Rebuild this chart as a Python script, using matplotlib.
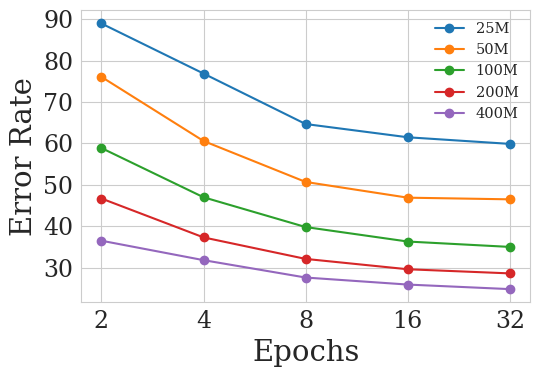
import matplotlib
matplotlib.use("Agg")
import matplotlib.pyplot as plt
import seaborn as sns

epochs = [2, 4, 8, 16, 32]
labels = ["25M", "50M", "100M", "200M", "400M"]
err_25m = [89.0, 76.9, 64.7, 61.5, 59.9]
err_50m = [76.1, 60.6, 50.7, 46.9, 46.5]
err_100m = [58.9, 47.0, 39.8, 36.3, 35.0]
err_200m = [46.7, 37.3, 32.1, 29.6, 28.6]
err_400m = [36.5, 31.8, 27.6, 25.9, 24.8]
series = [err_25m, err_50m, err_100m, err_200m, err_400m]

sns.set_style("whitegrid")
plt.rcParams['font.family'] = ['DejaVu Serif']

fig, ax = plt.subplots(figsize=(5.4, 3.78), dpi=100)
for lab, vals in zip(labels, series):
    ax.plot(epochs, vals, marker='o', markersize=6, linewidth=1.5, label=lab)
ax.set_xscale('log', base=2)
ax.set_xticks(epochs)
ax.set_xticklabels([str(e) for e in epochs])
ax.minorticks_off()
ax.set_yticks([30, 40, 50, 60, 70, 80, 90])
ax.tick_params(axis='both', labelsize=17, pad=2)
ax.set_xlabel("Epochs", fontsize=21)
ax.set_ylabel("Error Rate", fontsize=21)
ax.legend(frameon=False, fontsize=10.5, loc='upper right', borderaxespad=0.4)
fig.subplots_adjust(left=0.15, right=0.982, top=0.973, bottom=0.2)
fig.savefig("out.png", dpi=100)
